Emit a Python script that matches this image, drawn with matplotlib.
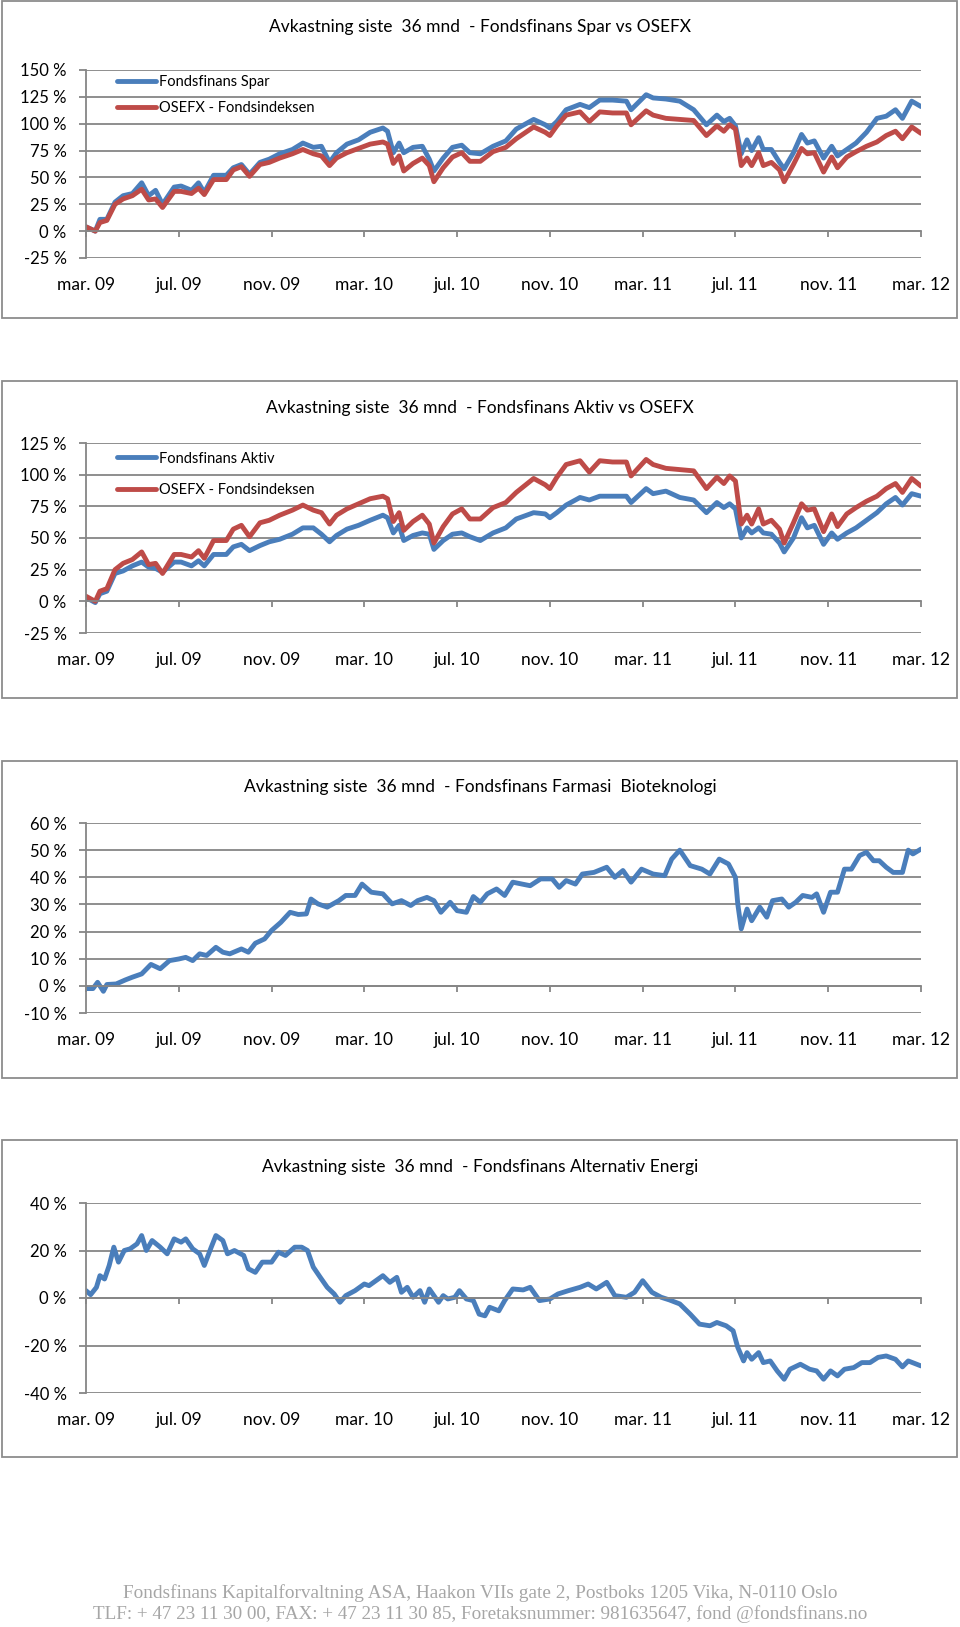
import matplotlib
matplotlib.use("Agg")
import matplotlib.pyplot as plt
from matplotlib.patches import Rectangle

plt.rcParams['font.family'] = ['Lato', 'DejaVu Sans']

# farger (Excel 2007)
BLUE = '#4A7EBB'
RED = '#BE4B48'
GRID = '#868686'

# x-akse: maaneder etter mars 2009
tick_months = [0, 4, 8, 12, 16, 20, 24, 28, 32, 36]
tick_labels = ['mar. 09', 'jul. 09', 'nov. 09', 'mar. 10', 'jul. 10',
               'nov. 10', 'mar. 11', 'jul. 11', 'nov. 11', 'mar. 12']

# Spar / Aktiv / OSEFX avlest paa samme tidspunkter
months_a = [0, 0.4, 0.6, 0.9, 1.25, 1.6, 2.0, 2.4, 2.7, 3.0,
            3.3, 3.8, 4.1, 4.55, 4.85, 5.1, 5.5, 6.05, 6.35, 6.7,
            7.05, 7.5, 7.9, 8.35, 8.9, 9.35, 9.8, 10.15, 10.5, 10.8,
            11.25, 11.75, 12.25, 12.8, 13.0, 13.25, 13.5, 13.7, 14.1, 14.5,
            14.8, 15.0, 15.4, 15.8, 16.2, 16.55, 17.0,
            17.55, 18.1, 18.55, 19.3, 19.8, 20.0, 20.3, 20.7, 21.3, 21.7,
            22.15, 22.7, 23.3, 23.5, 24.15, 24.45, 25.0, 25.6, 26.2, 26.75,
            27.2, 27.5, 27.75, 28.0, 28.25, 28.5, 28.7, 29.0, 29.2, 29.55,
            29.9, 30.1, 30.5, 30.85, 31.1, 31.4, 31.8, 32.15, 32.4, 32.8,
            33.2, 33.65, 34.1, 34.5, 34.9, 35.2, 35.6, 36.0]

spar = [4, 0, 11, 11, 27, 33, 35, 45, 33, 38,
        25, 41, 42, 38, 45, 36, 52, 52, 59, 62,
        53, 64, 67, 72, 76, 82, 78, 79, 64, 73,
        81, 85, 92, 96, 93, 73, 82, 73, 78, 79,
        67, 56, 68, 78, 80, 73, 72,
        79, 84, 95, 104, 99, 96, 102, 113, 118, 115,
        122, 122, 121, 113, 127, 124, 123, 121, 113, 99,
        108, 102, 105, 98, 72, 85, 75, 87, 76, 76,
        64, 58, 73, 90, 82, 84, 68, 79, 70, 76,
        82, 92, 105, 107, 113, 105, 121, 116]

aktiv = [3, -1, 6, 8, 22, 24, 28, 31, 27, 26,
         23, 31, 31, 28, 32, 28, 37, 37, 43, 45,
         40, 44, 47, 49, 53, 58, 58, 53, 47, 52,
         57, 60, 64, 68, 66, 54, 60, 48, 52, 54,
         53, 41, 48, 53, 54, 51, 48,
         54, 58, 65, 70, 69, 66, 70, 76, 82, 80,
         83, 83, 83, 78, 89, 85, 87, 82, 80, 70,
         78, 74, 77, 73, 50, 58, 54, 58, 54, 53,
         46, 39, 50, 66, 58, 60, 45, 54, 49, 54,
         58, 64, 70, 77, 82, 76, 85, 83]

osefx = [4, 0, 8, 10, 25, 30, 33, 39, 29, 30,
         22, 37, 37, 35, 40, 34, 48, 48, 57, 60,
         51, 62, 64, 68, 72, 76, 72, 70, 61, 68,
         73, 77, 81, 83, 81, 63, 70, 56, 63, 68,
         61, 46, 59, 69, 73, 65, 65,
         74, 78, 86, 97, 92, 89, 98, 108, 111, 102,
         111, 110, 110, 99, 112, 108, 105, 104, 103, 89,
         98, 93, 99, 95, 61, 68, 61, 73, 61, 64,
         57, 46, 62, 77, 72, 73, 55, 69, 59, 69,
         74, 79, 83, 89, 93, 86, 97, 91]

# Farmasi Bioteknologi
months_farma = [0, 0.3, 0.5, 0.75, 0.9, 1.3, 1.7, 2.0, 2.4, 2.8,
                3.2, 3.6, 4.0, 4.3, 4.6, 4.9, 5.2, 5.6, 5.9, 6.2,
                6.7, 7.0, 7.3, 7.7, 8.0, 8.4, 8.8, 9.15, 9.5, 9.7,
                10.0, 10.4, 10.9, 11.2, 11.6, 11.9, 12.3, 12.8, 13.2, 13.6,
                14.0, 14.3, 14.7, 15.0, 15.3, 15.7, 16.0, 16.4, 16.7, 17.0,
                17.3, 17.7, 18.05, 18.4, 18.8, 19.15, 19.6, 20.1, 20.4, 20.7,
                21.1, 21.4, 21.9, 22.45, 22.8, 23.15, 23.5, 23.95, 24.45, 24.95,
                25.25, 25.6, 26.05, 26.55, 26.9, 27.3, 27.7, 28.0, 28.1, 28.25,
                28.5, 28.7, 29.05, 29.35, 29.6, 30.0, 30.3, 30.6, 30.9, 31.3,
                31.5, 31.8, 32.1, 32.4, 32.7, 33.0, 33.35, 33.65, 33.95, 34.2,
                34.5, 34.8, 35.2, 35.45, 35.65, 36.0]
farma = [-1, -1, 1.3, -2, 0.5, 0.7, 2.2, 3.2, 4.4, 7.9,
         6.3, 9.3, 9.9, 10.5, 9.3, 11.8, 11.2, 14.2, 12.4, 11.8,
         13.6, 12.4, 15.7, 17.3, 20.4, 23.4, 27.1, 26.3, 26.5, 32,
         30.2, 29, 31.4, 33.3, 33.3, 37.5, 34.5, 33.9, 30.2, 31.4,
         29.6, 31.4, 32.6, 31.4, 27.1, 30.8, 27.7, 27.1, 32.9, 30.8,
         33.9, 35.7, 33.3, 38.2, 37.5, 36.9, 39.4, 39.4, 36.3, 38.8,
         37.5, 41.2, 41.8, 43.7, 40, 42.5, 38.2, 43, 41.2, 40.6,
         46.7, 50, 44.3, 43, 41.2, 46.7, 44.9, 40, 30.2, 21,
         28.3, 24, 29, 25.3, 31.4, 32, 29, 30.8, 33.3, 32.6,
         33.9, 27.1, 34.5, 34.5, 43, 43, 48, 49.2, 46.1, 46.1,
         43.7, 41.8, 41.8, 50, 48.6, 50.4]

# Alternativ Energi
months_energi = [0, 0.2, 0.45, 0.6, 0.8, 1.0, 1.2, 1.4, 1.65, 1.9,
                 2.2, 2.4, 2.6, 2.85, 3.2, 3.5, 3.8, 4.1, 4.3, 4.6,
                 4.9, 5.1, 5.4, 5.6, 5.9, 6.1, 6.4, 6.8, 7.0, 7.3,
                 7.6, 8.0, 8.3, 8.6, 9.0, 9.3, 9.55, 9.8, 10.1, 10.4,
                 10.7, 10.95, 11.2, 11.6, 12.0, 12.2, 12.5, 12.8, 13.1, 13.4,
                 13.6, 13.85, 14.1, 14.4, 14.6, 14.8, 15.2, 15.4, 15.6, 15.9,
                 16.1, 16.4, 16.7, 16.95,
                 17.2, 17.4, 17.8, 18.05, 18.4, 18.85, 19.15, 19.55, 20.0, 20.35,
                 20.8, 21.3, 21.65, 22.0, 22.45, 22.8, 23.3, 23.65, 24.0, 24.4,
                 24.8, 25.15, 25.6, 26.05, 26.45, 26.9, 27.2, 27.6, 27.9, 28.1,
                 28.35, 28.5, 28.7, 29.0, 29.2, 29.5, 29.8, 30.1, 30.35, 30.8,
                 31.2, 31.5, 31.8, 32.1, 32.4, 32.7, 33.1, 33.45, 33.8, 34.15,
                 34.5, 34.9, 35.2, 35.45, 36.0]
energi = [3.1, 1.4, 4.5, 9.4, 8, 13.7, 21.4, 15.1, 20, 20.7,
          22.8, 26.3, 20, 24.2, 21.4, 18.6, 24.9, 23.5, 24.9, 20.7,
          18.6, 13.7, 21.4, 26.3, 24.2, 18.6, 20, 17.9, 12.3, 10.8,
          15.1, 15.1, 19.3, 17.9, 21.4, 21.4, 20, 13, 8.7, 4.5,
          1.7, -1.8, 1, 3.1, 5.9, 5.2, 7.3, 9.4, 6.6, 8.7,
          2.4, 4.5, 0.3, 3.1, -1.8, 3.8, -1.8, 1, -0.4, 0.3,
          3.1, -0.4, -1.1, -6.8,
          -7.5, -3.9, -5.4, -1.1, 3.8, 3.4, 4.5, -1.1, -0.4, 1.7,
          3.1, 4.5, 5.9, 3.8, 6.6, 1, 0.3, 2.4, 7.3, 2.4,
          0.3, -0.8, -2.5, -6.8, -11, -11.7, -10.3, -11.7, -13.8, -20.8,
          -26.5, -23, -25.8, -23, -27.2, -26.5, -30.7, -34.2, -30, -27.9,
          -30, -30.7, -34.2, -30.7, -32.8, -30, -29.3, -27.2, -27.2, -25,
          -24.4, -25.8, -29, -26.5, -28.6]

titles = ['Avkastning siste  36 mnd  - Fondsfinans Spar vs OSEFX',
          'Avkastning siste  36 mnd  - Fondsfinans Aktiv vs OSEFX',
          'Avkastning siste  36 mnd  - Fondsfinans Farmasi  Bioteknologi',
          'Avkastning siste  36 mnd  - Fondsfinans Alternativ Energi']

footer = ['Fondsfinans Kapitalforvaltning ASA, Haakon VIIs gate 2, Postboks 1205 Vika, N-0110 Oslo',
          'TLF: + 47 23 11 30 00, FAX: + 47 23 11 30 85, Foretaksnummer: 981635647, fond @fondsfinans.no']

W, H = 960, 1627
fig = plt.figure(figsize=(W / 100, H / 100), dpi=100)


def fx(x):
    return x / W


def fy(y):
    return 1 - y / H


def panel(box_top, ax_top, ax_bot, title_y, title, yticks, series, legend=None):
    # ramme rundt diagrammet
    fig.patches.append(Rectangle((fx(2), fy(box_top + 317)), fx(955), 317 / H,
                                 transform=fig.transFigure, fill=False,
                                 ec='#8c8c8c', lw=1.3))
    fig.text(fx(480), fy(title_y), title, ha='center', va='center', fontsize=12.5)

    ax = fig.add_axes([fx(86), fy(ax_bot), fx(921 - 86), (ax_bot - ax_top) / H])
    for m, v, c, lab in series:
        ax.plot(m, v, color=c, lw=3.5, label=lab,
                solid_joinstyle='round', solid_capstyle='round')

    ax.set_xlim(0, 36)
    ax.set_ylim(yticks[0], yticks[-1])
    ax.set_yticks(yticks)
    ax.set_yticklabels(['%d %%' % t for t in yticks])
    ax.yaxis.grid(True, color=GRID, lw=1.3)
    ax.set_axisbelow(True)

    for s in ['top', 'right']:
        ax.spines[s].set_visible(False)
    ax.spines['left'].set_color(GRID)
    ax.spines['left'].set_linewidth(1.3)
    ax.spines['bottom'].set_position(('data', 0))
    ax.spines['bottom'].set_color(GRID)
    ax.spines['bottom'].set_linewidth(1.3)

    ax.set_xticks(tick_months)
    ax.tick_params(axis='x', direction='out', length=4.5, width=1.3,
                   color=GRID, labelbottom=False)
    ax.tick_params(axis='y', direction='out', length=5, width=1.3,
                   color=GRID, labelsize=12, pad=9)

    # datoetiketter nederst
    sec = ax.secondary_xaxis('bottom')
    sec.set_xticks(tick_months, tick_labels)
    sec.tick_params(length=0, pad=14, labelsize=12.5)
    sec.spines['bottom'].set_visible(False)

    if legend is not None:
        ax.legend(loc='upper left', bbox_to_anchor=legend[:2], frameon=False,
                  fontsize=10.5, handlelength=2.7, handletextpad=0.2,
                  labelspacing=legend[2], borderpad=0, borderaxespad=0)
    return ax


panel(1, 70, 258, 27, titles[0], [-25, 0, 25, 50, 75, 100, 125, 150],
      [(months_a, spar, BLUE, 'Fondsfinans Spar'),
       (months_a, osefx, RED, 'OSEFX - Fondsindeksen')],
      legend=(0.037, 0.975, 0.83))

panel(381, 443, 633, 408, titles[1], [-25, 0, 25, 50, 75, 100, 125],
      [(months_a, aktiv, BLUE, 'Fondsfinans Aktiv'),
       (months_a, osefx, RED, 'OSEFX - Fondsindeksen')],
      legend=(0.037, 0.955, 1.21))

panel(761, 823, 1013, 787, titles[2], [-10, 0, 10, 20, 30, 40, 50, 60],
      [(months_farma, farma, BLUE, 'Farmasi Bioteknologi')])

panel(1140, 1203, 1393, 1167, titles[3], [-40, -20, 0, 20, 40],
      [(months_energi, energi, BLUE, 'Alternativ Energi')])

fig.text(fx(480), fy(1593), footer[0], ha='center', va='center',
         family='Liberation Serif', fontsize=13.9, color='#a6a6a6')
fig.text(fx(480), fy(1614), footer[1], ha='center', va='center',
         family='Liberation Serif', fontsize=13.8, color='#a6a6a6')

fig.savefig('out.png', dpi=100)
